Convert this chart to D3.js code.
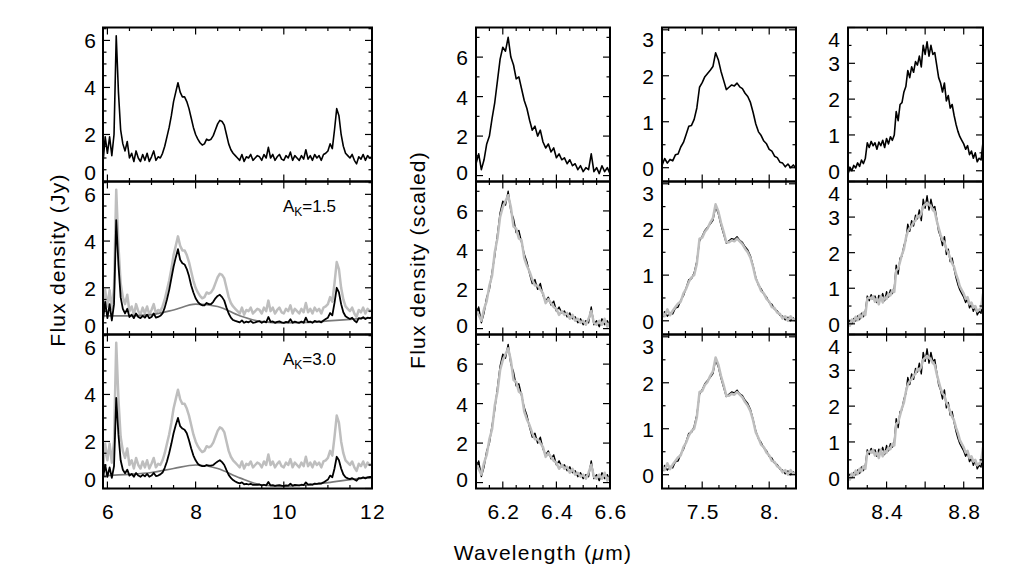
<!DOCTYPE html>
<html>
<head>
<meta charset="utf-8">
<script src="https://cdn.jsdelivr.net/npm/d3@7"></script>
<style>
  body { margin: 0; background: #fff; }
  text { font-family: "Liberation Sans", Arial, sans-serif; fill: #000; }
</style>
</head>
<body>
<svg id="chart" width="1034" height="575"></svg>
<script>
// ---- full spectrum, 5.9 - 12 um, sampled every 0.05 um ----
const fullStart = 5.9, fullStep = 0.05
// observed (top panel, grey in the lower panels)
const obsFlux = [0.8,1.9,1.2,1.9,1.1,2.0,6.2,3.8,2.2,1.6,1.3,1.7,1.0,1.2,0.85,1.3,1.0,0.85,1.15,0.9,
  1.2,0.85,1.05,1.3,0.9,1.05,1.0,1.2,1.5,1.9,2.3,2.8,3.4,3.8,4.2,3.8,3.6,3.6,3.4,3.1,
  2.7,2.3,2.0,1.8,1.65,1.55,1.6,1.8,1.75,1.8,1.95,2.2,2.45,2.6,2.55,2.4,2.0,1.6,1.35,1.2,
  1.1,1.0,0.9,1.15,0.85,1.05,1.0,1.15,0.9,1.0,1.1,1.05,0.9,1.15,1.0,1.45,1.0,1.15,0.9,1.05,
  1.15,0.95,0.9,1.1,1.0,1.25,0.9,1.1,1.0,0.9,1.1,0.95,1.35,0.95,1.1,0.9,1.15,1.0,1.1,0.9,
  1.15,1.2,1.3,1.6,1.4,2.2,3.1,2.8,2.0,1.5,1.2,1.1,1.0,1.15,0.9,0.75,1.05,0.95,1.15,0.9,
  1.1,1.0,1.05]
// corrected for A_K = 1.5
const corr15Flux = [0.6,1.4,0.7,1.3,0.6,1.3,4.9,3.0,1.6,1.1,0.9,1.1,0.75,0.85,0.7,0.9,0.75,0.7,0.8,0.72,
  0.85,0.7,0.75,0.9,0.72,0.75,0.8,0.9,1.15,1.5,1.9,2.4,2.9,3.3,3.65,3.2,3.05,3.0,2.8,2.5,
  2.1,1.8,1.55,1.4,1.3,1.25,1.25,1.35,1.3,1.3,1.4,1.55,1.65,1.7,1.6,1.45,1.15,0.9,0.72,0.62,
  0.58,0.55,0.52,0.6,0.5,0.55,0.52,0.58,0.5,0.52,0.55,0.57,0.5,0.56,0.52,0.75,0.54,0.56,0.5,0.54,
  0.56,0.52,0.5,0.54,0.52,0.65,0.5,0.55,0.52,0.5,0.55,0.5,0.72,0.53,0.55,0.5,0.58,0.54,0.56,0.52,
  0.6,0.66,0.72,0.92,0.82,1.35,2.0,1.8,1.3,0.95,0.78,0.72,0.66,0.72,0.6,0.52,0.7,0.68,0.74,0.66,
  0.72,0.7,0.74]
// corrected for A_K = 3.0
const corr30Flux = [0.45,1.0,0.5,0.9,0.45,0.95,3.85,2.3,1.2,0.8,0.65,0.8,0.55,0.62,0.5,0.66,0.55,0.5,0.58,0.52,
  0.62,0.5,0.55,0.66,0.53,0.55,0.6,0.68,0.88,1.15,1.5,1.9,2.35,2.7,3.0,2.65,2.55,2.5,2.35,2.05,
  1.7,1.4,1.2,1.05,0.98,0.95,0.95,1.0,0.97,0.97,1.0,1.08,1.15,1.2,1.12,1.0,0.78,0.58,0.45,0.36,
  0.3,0.25,0.22,0.26,0.18,0.2,0.17,0.2,0.15,0.15,0.16,0.17,0.13,0.16,0.13,0.28,0.13,0.14,0.11,0.13,
  0.14,0.12,0.11,0.13,0.12,0.2,0.12,0.15,0.14,0.13,0.16,0.14,0.26,0.16,0.18,0.16,0.21,0.2,0.22,0.21,
  0.26,0.32,0.38,0.55,0.48,0.85,1.35,1.2,0.85,0.6,0.48,0.43,0.4,0.44,0.38,0.33,0.44,0.43,0.47,0.43,
  0.47,0.46,0.49]
// smooth continua
const contWave = [5.9,6.5,7.0,7.5,8.0,8.5,9.0,9.5,10.0,10.5,11.0,11.5,12.0]
const cont15 = [0.8,0.8,0.85,1.05,1.3,1.2,0.8,0.55,0.5,0.52,0.58,0.65,0.72]
const cont30 = [0.55,0.6,0.68,0.85,1.0,0.85,0.45,0.15,0.1,0.15,0.25,0.38,0.5]

// ---- 6.2 um band, 6.10 - 6.60, step 0.01 ----
const b62Start = 6.10, b62Step = 0.01
const b62Flux = [0.6,1.1,0.3,0.8,1.6,2.0,2.9,3.7,4.8,5.9,6.5,6.3,7.0,6.0,5.6,4.9,5.0,4.4,3.8,3.4,
  2.8,2.3,2.5,2.0,2.3,1.7,1.4,1.6,1.2,1.4,0.9,1.1,0.8,0.9,0.6,0.8,0.5,0.6,0.3,0.5,
  0.2,0.4,0.3,1.1,0.2,0.4,0.1,0.5,0.2,0.4,0.1]
const b62Grey = [0.9,0.7,0.4,1.0,1.4,2.2,2.7,3.9,4.6,5.7,6.2,6.5,6.8,6.2,5.2,5.1,4.6,4.5,3.6,3.2,
  2.9,2.5,2.2,2.2,2.0,1.8,1.3,1.5,1.3,1.1,1.0,0.7,0.9,0.7,0.8,0.5,0.7,0.4,0.5,0.3,
  0.4,0.2,0.5,0.9,0.3,0.2,0.4,0.2,0.5,0.1,0.3]

// ---- 7.7 um complex, 7.2 - 8.2, step 0.02 ----
const b76Start = 7.2, b76Step = 0.02
const b76Flux = [0.05,0.2,0.1,0.18,0.15,0.28,0.3,0.45,0.55,0.72,0.9,0.92,1.05,1.3,1.75,1.85,1.98,2.05,2.12,2.2,
  2.5,2.35,2.1,1.9,1.7,1.75,1.8,1.78,1.84,1.76,1.72,1.62,1.55,1.42,1.2,0.95,0.78,0.7,0.58,0.52,
  0.4,0.36,0.25,0.22,0.12,0.1,0.02,0.08,0.0,0.06,-0.02]
const b76Grey = [0.2,0.1,0.25,0.12,0.22,0.3,0.38,0.42,0.6,0.7,0.85,0.95,1.0,1.25,1.8,1.82,1.95,2.02,2.15,2.25,
  2.55,2.4,2.15,1.95,1.72,1.72,1.76,1.74,1.8,1.74,1.68,1.58,1.5,1.38,1.18,0.92,0.8,0.65,0.6,0.48,
  0.42,0.3,0.28,0.18,0.15,0.05,0.1,0.0,0.1,0.02,0.05]

// ---- 8.6 um band, 8.2 - 8.9, step 0.01 ----
const b86Start = 8.2, b86Step = 0.01
const b86Flux = [-0.1,0.1,0.0,0.15,0.08,0.22,0.12,0.3,0.2,0.35,0.78,0.65,0.82,0.7,0.78,0.6,0.8,0.7,0.85,0.65,
  0.9,0.75,0.95,0.85,1.0,1.65,1.4,1.85,1.9,2.2,2.35,2.8,2.6,2.9,2.75,3.05,2.95,3.2,2.9,3.5,
  3.25,3.6,3.2,3.5,3.25,3.3,2.95,2.6,2.45,2.2,2.45,1.95,2.1,1.75,1.85,1.55,1.3,1.1,0.95,0.85,
  0.75,0.6,0.7,0.45,0.55,0.35,0.5,0.25,0.35,0.3,0.8]
const b86Grey = [0.05,-0.05,0.12,0.05,0.2,0.1,0.25,0.18,0.32,0.25,0.7,0.75,0.7,0.78,0.62,0.72,0.55,0.78,0.6,0.75,
  0.7,0.85,0.8,0.95,0.9,1.5,1.55,1.75,1.95,2.1,2.4,2.6,2.7,2.75,2.85,2.9,3.05,3.0,3.1,3.3,
  3.35,3.4,3.35,3.3,3.2,3.15,2.9,2.7,2.5,2.35,2.3,2.1,2.0,1.85,1.7,1.6,1.4,1.25,1.05,0.95,
  0.85,0.7,0.75,0.55,0.6,0.45,0.5,0.35,0.4,0.45,0.85]

const extinctions = ['1.5', '3.0']

// ---- helpers ----
function sampled(start, step, flux) {
  return flux.map((f, i) => [start + i * step, f])
}
function paired(wave, flux) {
  return flux.map((f, i) => [wave[i], f])
}
function every(dom, step) {
  const a = Math.ceil(dom[0] / step - 1e-6), b = Math.floor(dom[1] / step + 1e-6)
  return d3.range(a, b + 1).map(k => +(k * step).toFixed(4))
}

const BLACK = '#000', LGREY = '#bebebe', DGREY = '#7a7a7a'

const obs = sampled(fullStart, fullStep, obsFlux)
const c15 = sampled(fullStart, fullStep, corr15Flux)
const c30 = sampled(fullStart, fullStep, corr30Flux)
const k15 = paired(contWave, cont15)
const k30 = paired(contWave, cont30)
const s62 = sampled(b62Start, b62Step, b62Flux), g62 = sampled(b62Start, b62Step, b62Grey)
const s76 = sampled(b76Start, b76Step, b76Flux), g76 = sampled(b76Start, b76Step, b76Grey)
const s86 = sampled(b86Start, b86Step, b86Flux), g86 = sampled(b86Start, b86Step, b86Grey)

const rowEdges = [27.5, 181.5, 334.5, 488.5]

const columns = [
  { x0: 103, x1: 372, xdom: [5.9, 12], ydom: [0, 6.55],
    xMajor: [6, 8, 10, 12], xMinor: 0.5, xLabel: d => String(d), xLabelVals: [6, 8, 10, 12],
    yMajor: [0, 2, 4, 6], yMinor: 0.5, labelX: 97,
    rows: [
      [{ d: obs, c: BLACK, w: 1.6 }],
      [{ d: obs, c: LGREY, w: 2.5 }, { d: k15, c: DGREY, w: 1.7, smooth: true }, { d: c15, c: BLACK, w: 1.8 }],
      [{ d: obs, c: LGREY, w: 2.5 }, { d: k30, c: DGREY, w: 1.7, smooth: true }, { d: c30, c: BLACK, w: 1.8 }]
    ] },
  { x0: 476, x1: 610, xdom: [6.1, 6.6], ydom: [-0.3, 7.5],
    xMajor: [6.2, 6.4, 6.6], xMinor: 0.05, xLabel: d => d.toFixed(1), xLabelVals: [6.2, 6.4, 6.6],
    yMajor: [0, 2, 4, 6], yMinor: 1, labelX: 469,
    rows: [
      [{ d: s62, c: BLACK, w: 1.6 }],
      [{ d: s62, c: BLACK, w: 1.4 }, { d: g62, c: LGREY, w: 2.5 }],
      [{ d: s62, c: BLACK, w: 1.4 }, { d: g62, c: LGREY, w: 2.5 }]
    ] },
  { x0: 662, x1: 796, xdom: [7.2, 8.2], ydom: [-0.3, 3.05],
    xMajor: [7.5, 8.0], xMinor: 0.125, xLabel: d => (d === 8 ? '8.' : d.toFixed(1)), xLabelVals: [7.5, 8.0],
    yMajor: [0, 1, 2, 3], yMinor: 0.5, labelX: 655,
    rows: [
      [{ d: s76, c: BLACK, w: 1.6 }],
      [{ d: s76, c: BLACK, w: 1.4 }, { d: g76, c: LGREY, w: 2.5 }],
      [{ d: s76, c: BLACK, w: 1.4 }, { d: g76, c: LGREY, w: 2.5 }]
    ] },
  { x0: 848, x1: 983, xdom: [8.2, 8.9], ydom: [-0.3, 4.0],
    xMajor: [8.4, 8.6, 8.8], xMinor: 0.1, xLabel: d => d.toFixed(1), xLabelVals: [8.4, 8.8],
    yMajor: [0, 1, 2, 3, 4], yMinor: 0.5, labelX: 841,
    rows: [
      [{ d: s86, c: BLACK, w: 1.6 }],
      [{ d: s86, c: BLACK, w: 1.4 }, { d: g86, c: LGREY, w: 2.5 }],
      [{ d: s86, c: BLACK, w: 1.4 }, { d: g86, c: LGREY, w: 2.5 }]
    ] }
]

const svg = d3.select('#chart')
const defs = svg.append('defs')
const fontSize = 21

columns.forEach((col, ci) => {
  const xs = d3.scaleLinear().domain(col.xdom).range([col.x0, col.x1])
  col.rows.forEach((series, ri) => {
    const top = rowEdges[ri], bot = rowEdges[ri + 1]
    const ys = d3.scaleLinear().domain(col.ydom).range([bot, top])
    const id = 'clip' + ci + '_' + ri
    defs.append('clipPath').attr('id', id).append('rect')
      .attr('x', col.x0).attr('y', top).attr('width', col.x1 - col.x0).attr('height', bot - top)
    const g = svg.append('g')

    const line = d3.line().x(d => xs(d[0])).y(d => ys(d[1]))
    const smoothLine = d3.line().x(d => xs(d[0])).y(d => ys(d[1])).curve(d3.curveMonotoneX)
    const plot = g.append('g').attr('clip-path', 'url(#' + id + ')')
    series.forEach(s => {
      plot.append('path').attr('d', (s.smooth ? smoothLine : line)(s.d))
        .attr('fill', 'none').attr('stroke', s.c).attr('stroke-width', s.w)
        .attr('stroke-linejoin', 'round')
    })

    // ticks, on all four sides, pointing inwards
    const tk = g.append('g').attr('stroke', '#000').attr('stroke-width', 1.2)
    const xMinor = every(col.xdom, col.xMinor).filter(v => !col.xMajor.some(m => Math.abs(m - v) < 1e-6))
    const yMinor = every(col.ydom, col.yMinor).filter(v => !col.yMajor.some(m => Math.abs(m - v) < 1e-6))
    const xt = col.xMajor.map(v => [v, 7]).concat(xMinor.map(v => [v, 3.5]))
    const yt = col.yMajor.map(v => [v, 7]).concat(yMinor.map(v => [v, 3.5]))
    xt.forEach(([v, L]) => {
      tk.append('line').attr('x1', xs(v)).attr('x2', xs(v)).attr('y1', bot).attr('y2', bot - L)
      tk.append('line').attr('x1', xs(v)).attr('x2', xs(v)).attr('y1', top).attr('y2', top + L)
    })
    yt.forEach(([v, L]) => {
      tk.append('line').attr('y1', ys(v)).attr('y2', ys(v)).attr('x1', col.x0).attr('x2', col.x0 + L)
      tk.append('line').attr('y1', ys(v)).attr('y2', ys(v)).attr('x1', col.x1).attr('x2', col.x1 - L)
    })

    g.append('rect').attr('x', col.x0).attr('y', top)
      .attr('width', col.x1 - col.x0).attr('height', bot - top)
      .attr('fill', 'none').attr('stroke', '#000').attr('stroke-width', 2)

    // y tick labels, kept inside the row
    col.yMajor.forEach(v => {
      const y = Math.min(Math.max(ys(v) + 0.5, top + 12), bot - 9.5)
      g.append('text').attr('x', col.labelX).attr('y', y)
        .attr('text-anchor', 'end').attr('dominant-baseline', 'central')
        .attr('font-size', fontSize).attr('letter-spacing', 1).text(v)
    })

    if (ri === 2) {
      col.xLabelVals.forEach(v => {
        g.append('text').attr('x', xs(v) + 1).attr('y', 511)
          .attr('text-anchor', 'middle').attr('dominant-baseline', 'central')
          .attr('font-size', fontSize).attr('letter-spacing', 1.2).text(col.xLabel(v))
      })
    }

    if (ci === 0 && ri > 0) {
      const t = g.append('text').attr('x', 283).attr('y', top + 30).attr('font-size', 17)
      t.append('tspan').text('A')
      t.append('tspan').attr('font-size', 12).attr('dy', 4).text('K')
      t.append('tspan').attr('dy', -4).text('=' + extinctions[ri - 1])
    }
  })
})

// axis titles
svg.append('text').attr('transform', 'translate(57,260) rotate(-90)')
  .attr('text-anchor', 'middle').attr('dominant-baseline', 'central')
  .attr('font-size', fontSize).attr('letter-spacing', 1.2).text('Flux density (Jy)')
svg.append('text').attr('transform', 'translate(417,260) rotate(-90)')
  .attr('text-anchor', 'middle').attr('dominant-baseline', 'central')
  .attr('font-size', fontSize).attr('letter-spacing', 1.2).text('Flux density (scaled)')
const xt = svg.append('text').attr('x', 543).attr('y', 552)
  .attr('text-anchor', 'middle').attr('dominant-baseline', 'central')
  .attr('font-size', fontSize).attr('letter-spacing', 1.3)
xt.append('tspan').text('Wavelength (')
xt.append('tspan').attr('font-style', 'italic').text('μ')
xt.append('tspan').text('m)')
</script>
</body>
</html>
